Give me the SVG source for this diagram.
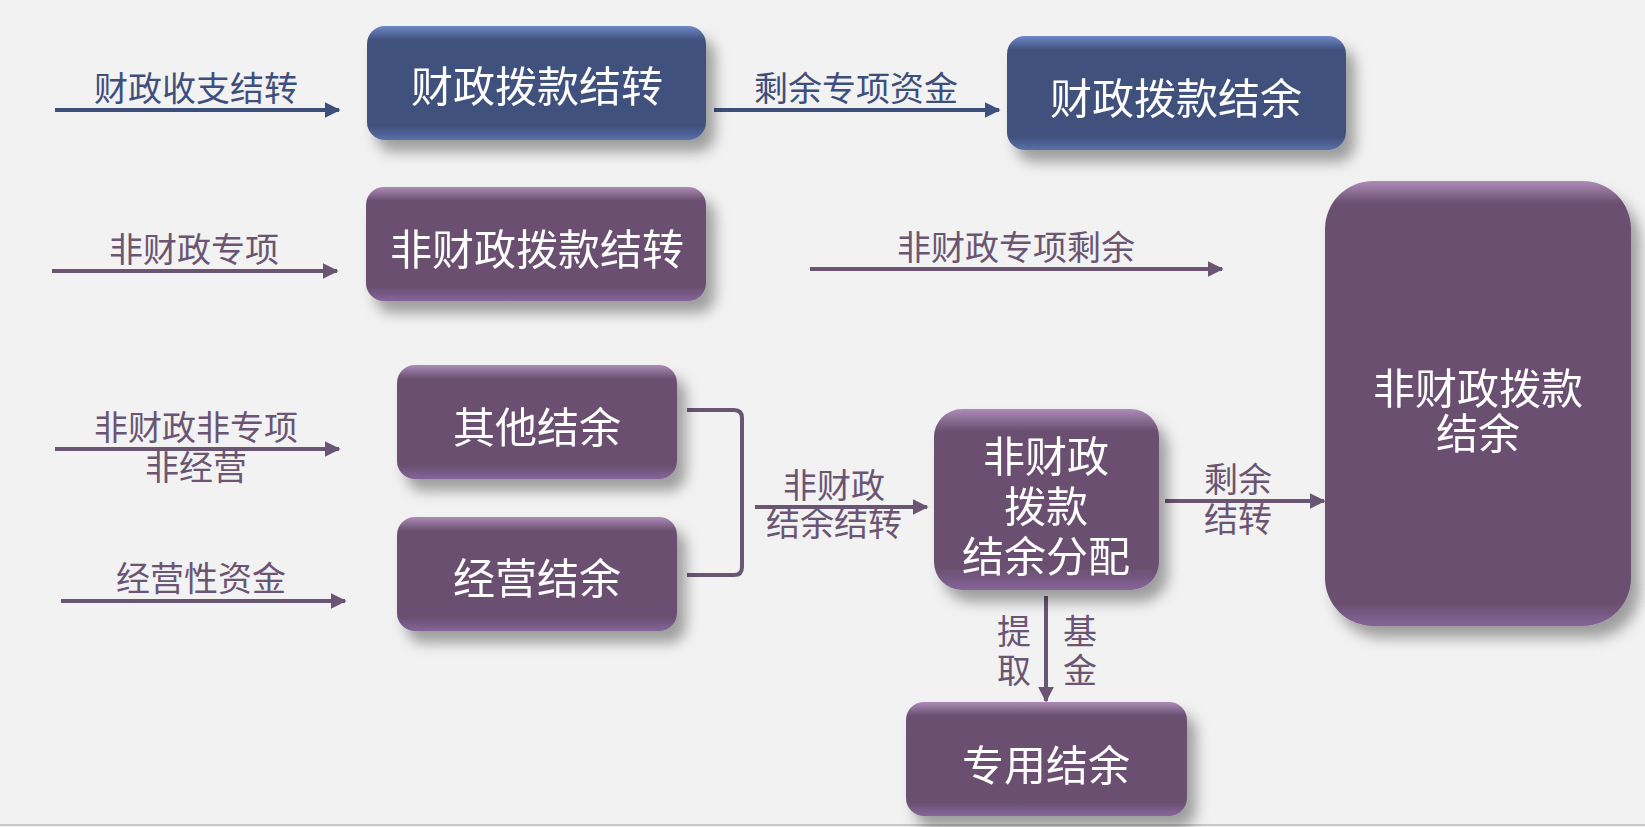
<svg xmlns="http://www.w3.org/2000/svg" width="1645" height="827" viewBox="0 0 1645 827">
<defs>
<style>
.lb{font-family:"Noto Sans CJK SC","Noto Sans",sans-serif;font-size:34px;text-anchor:middle;dominant-baseline:central}
.lbB{fill:#3e4f7c}
.lbP{fill:#6a5572}
.bt{font-family:"Noto Sans CJK SC","Noto Sans",sans-serif;font-size:42px;fill:#ffffff;text-anchor:middle;dominant-baseline:central}
.ln{fill:none;stroke-width:4}
.lnB{stroke:#3e4f7c}
.lnP{stroke:#6a5572}
</style>
<linearGradient id="gB" x1="0" y1="0" x2="0" y2="1">
<stop offset="0" stop-color="#6f88c8"/>
<stop offset="0.12" stop-color="#40517d"/>
<stop offset="0.88" stop-color="#40517d"/>
<stop offset="1" stop-color="#5a70aa"/>
</linearGradient>
<linearGradient id="gP" x1="0" y1="0" x2="0" y2="1">
<stop offset="0" stop-color="#ad8bb8"/>
<stop offset="0.12" stop-color="#6a5070"/>
<stop offset="0.88" stop-color="#6a5070"/>
<stop offset="1" stop-color="#86649a"/>
</linearGradient>
<linearGradient id="gPb" x1="0" y1="0" x2="0" y2="1">
<stop offset="0" stop-color="#ad8bb8"/>
<stop offset="0.05" stop-color="#6a5070"/>
<stop offset="0.95" stop-color="#6a5070"/>
<stop offset="1" stop-color="#86649a"/>
</linearGradient>
<filter id="sh" x="-20%" y="-20%" width="150%" height="160%">
<feDropShadow dx="9" dy="12" stdDeviation="7" flood-color="#000000" flood-opacity="0.35"/>
</filter>
<marker id="aB" viewBox="0 0 10 10" refX="9" refY="5" markerWidth="4" markerHeight="4" orient="auto" markerUnits="strokeWidth">
<path d="M0,0 L10,5 L0,10 Z" fill="#3e4f7c"/>
</marker>
<marker id="aP" viewBox="0 0 10 10" refX="9" refY="5" markerWidth="4" markerHeight="4" orient="auto" markerUnits="strokeWidth">
<path d="M0,0 L10,5 L0,10 Z" fill="#6a5572"/>
</marker>
</defs>
<rect x="0" y="0" width="1645" height="827" fill="#f2f2f2"/>
<line x1="0" y1="825" x2="1645" y2="825" stroke="#c8c8c8" stroke-width="2"/>

<g id="connectors">
<line class="ln lnB" x1="55" y1="110" x2="339" y2="110" marker-end="url(#aB)"/>
<line class="ln lnB" x1="714" y1="110" x2="999" y2="110" marker-end="url(#aB)"/>
<line class="ln lnP" x1="52" y1="271" x2="337" y2="271" marker-end="url(#aP)"/>
<line class="ln lnP" x1="810" y1="269" x2="1222" y2="269" marker-end="url(#aP)"/>
<line class="ln lnP" x1="55" y1="449" x2="339" y2="449" marker-end="url(#aP)"/>
<line class="ln lnP" x1="61" y1="601" x2="345" y2="601" marker-end="url(#aP)"/>
<path class="ln lnP" d="M687,410 L734,410 Q742,410 742,418 L742,567 Q742,575 734,575 L687,575"/>
<line class="ln lnP" x1="755" y1="507" x2="927" y2="507" marker-end="url(#aP)"/>
<line class="ln lnP" x1="1165" y1="501" x2="1324" y2="501" marker-end="url(#aP)"/>
<line class="ln lnP" x1="1046" y1="596" x2="1046" y2="701" marker-end="url(#aP)"/>
<text class="lb lbB" x="196" y="86">财政收支结转</text>
<text class="lb lbB" x="856" y="86">剩余专项资金</text>
<text class="lb lbP" x="194" y="247">非财政专项</text>
<text class="lb lbP" x="1016" y="245">非财政专项剩余</text>
<text class="lb lbP"><tspan x="196" y="425">非财政非专项</tspan><tspan x="196" y="465">非经营</tspan></text>
<text class="lb lbP" x="201" y="576">经营性资金</text>
<text class="lb lbP"><tspan x="834" y="483">非财政</tspan><tspan x="834" y="521">结余结转</tspan></text>
<text class="lb lbP"><tspan x="1238" y="477">剩余</tspan><tspan x="1238" y="517">结转</tspan></text>
<text class="lb lbP"><tspan x="1014" y="629">提</tspan><tspan x="1014" y="668">取</tspan></text>
<text class="lb lbP"><tspan x="1080" y="629">基</tspan><tspan x="1080" y="668">金</tspan></text>
</g>

<g id="n1" filter="url(#sh)">
<rect x="367" y="26" width="339" height="114" rx="18" fill="url(#gB)"/>
<text class="bt" x="537" y="83">财政拨款结转</text>
</g>
<g id="n2" filter="url(#sh)">
<rect x="1007" y="36" width="339" height="114" rx="18" fill="url(#gB)"/>
<text class="bt" x="1176" y="95">财政拨款结余</text>
</g>
<g id="n3" filter="url(#sh)">
<rect x="366" y="187" width="340" height="114" rx="18" fill="url(#gP)"/>
<text class="bt" x="537" y="246">非财政拨款结转</text>
</g>
<g id="n4" filter="url(#sh)">
<rect x="397" y="365" width="280" height="114" rx="18" fill="url(#gP)"/>
<text class="bt" x="537" y="424">其他结余</text>
</g>
<g id="n5" filter="url(#sh)">
<rect x="397" y="517" width="280" height="114" rx="18" fill="url(#gP)"/>
<text class="bt" x="537" y="575">经营结余</text>
</g>
<g id="n6" filter="url(#sh)">
<rect x="934" y="409" width="225" height="181" rx="28" fill="url(#gP)"/>
<text class="bt"><tspan x="1046" y="453">非财政</tspan><tspan x="1046" y="503">拨款</tspan><tspan x="1046" y="553">结余分配</tspan></text>
</g>
<g id="n7" filter="url(#sh)">
<rect x="906" y="702" width="281" height="114" rx="18" fill="url(#gP)"/>
<text class="bt" x="1046" y="762">专用结余</text>
</g>
<g id="n8" filter="url(#sh)">
<rect x="1325" y="181" width="306" height="445" rx="48" fill="url(#gPb)"/>
<text class="bt"><tspan x="1478" y="385">非财政拨款</tspan><tspan x="1478" y="430">结余</tspan></text>
</g>
</svg>
